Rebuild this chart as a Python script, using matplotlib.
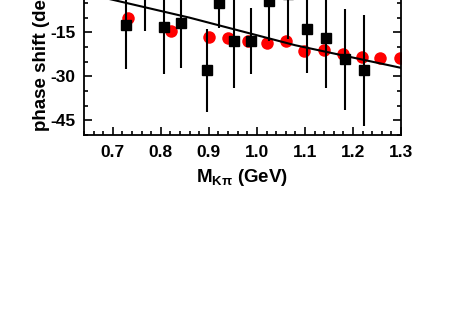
import numpy as np
import matplotlib
matplotlib.use("Agg")
import matplotlib.pyplot as plt
from matplotlib.ticker import MultipleLocator

plt.rcParams['font.family'] = ['Liberation Sans', 'DejaVu Sans']
plt.rcParams['font.weight'] = 'bold'
plt.rcParams['mathtext.default'] = 'regular'

# black squares: measured phase shift with errors
m_data = [0.728, 0.767, 0.807, 0.841, 0.897, 0.921, 0.952, 0.987, 1.026, 1.065, 1.104, 1.144, 1.184, 1.224]
ph_data = [-12.6, 0.5, -13.1, -11.9, -28.0, -4.9, -18.1, -18.0, -4.3, -2.0, -14.0, -17.0, -24.2, -28.0]
ph_err = [15.0, 15.0, 16.0, 15.4, 14.0, 8.5, 16.0, 11.2, 13.7, 15.4, 15.0, 17.0, 17.2, 19.0]

# red circles
m_red = [0.732, 0.822, 0.900, 0.940, 0.981, 1.020, 1.060, 1.099, 1.139, 1.179, 1.218, 1.257, 1.297]
ph_red = [-10.0, -14.6, -16.6, -17.0, -18.0, -18.5, -18.0, -21.4, -21.0, -22.5, -23.4, -23.9, -23.9]

# black curve
m_line = [0.64, 0.70, 0.86, 1.08, 1.30]
ph_line = [-1.7, -3.9, -10.0, -19.4, -27.1]

fig = plt.figure(figsize=(4.64, 3.27), dpi=100)
# axes runs off the top of the picture, like the cropped original
ax = fig.add_axes([84/464, 192/327, 317/464, 161.3/327])

ax.errorbar(m_data, ph_data, yerr=ph_err, fmt='s', color='black', ms=7,
            elinewidth=1.5, capsize=0, zorder=3)
ax.plot(m_red, ph_red, 'o', color='red', ms=9, mec='none', zorder=2)
ax.plot(m_line, ph_line, '-', color='black', lw=1.5, zorder=4)

ax.set_xlim(0.64, 1.30)
ax.set_ylim(-50, 5)
ax.xaxis.set_minor_locator(MultipleLocator(0.02))
ax.yaxis.set_minor_locator(MultipleLocator(5))
ax.set_xticks([0.7, 0.8, 0.9, 1.0, 1.1, 1.2, 1.3])
ax.set_xticklabels(['0.7', '0.8', '0.9', '1.0', '1.1', '1.2', '1.3'])
ax.set_yticks([-45, -30, -15, 0])
ax.set_yticklabels(['-45', '-30', '-15', ''])

ax.tick_params(which='both', direction='in', top=True, right=True, width=1.2)
ax.tick_params(which='major', length=6, labelsize=12.5)
ax.tick_params(axis='x', which='major', pad=7)
ax.tick_params(axis='y', which='major', pad=6)
ax.tick_params(which='minor', length=3)
for s in ax.spines.values():
    s.set_linewidth(1.3)

ax.set_xlabel('M$_{Kπ}$ (GeV)', fontsize=13.5, fontweight='bold', labelpad=5)
ax.set_ylabel('phase shift (deg)', fontsize=13.5, fontweight='bold')
ax.yaxis.set_label_coords(-0.108, 0.49)

fig.savefig('out.png', dpi=100)
